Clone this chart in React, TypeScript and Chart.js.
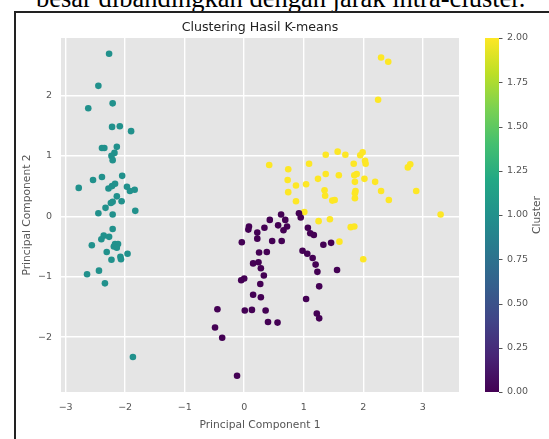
import React, { useEffect, useRef } from "react";
import { Chart, registerables } from "chart.js";

Chart.register(...registerables);

// ---- data ----
const cluster0X = [0.62, 0.43, 0.57, 0.69, 0.72, 0.66, 0.08, 0.07, 0.34, 0.22, 0.22, -0.04, 0.47, 0.63, 0.25, 0.38, 0.15, 0.24, 0.28, 0.33, -0.05, 0.0, 0.27, 0.15, 0.28, -0.45, 0.01, 0.13, 0.36, -0.49, 0.4, 0.56, -0.37, -0.12, 0.92, 0.95, 1.07, 1.11, 1.17, 1.33, 1.46, 0.98, 1.06, 1.15, 1.2, 1.23, 1.26, 1.56, 1.04, 1.22, 1.26];
const cluster0Y = [0.03, -0.06, -0.15, -0.06, -0.17, -0.23, -0.17, -0.22, -0.19, -0.27, -0.37, -0.43, -0.41, -0.41, -0.6, -0.59, -0.78, -0.76, -0.86, -0.98, -1.06, -1.03, -1.12, -1.3, -1.34, -1.54, -1.56, -1.55, -1.56, -1.84, -1.75, -1.76, -2.01, -2.64, 0.05, -0.02, -0.19, -0.28, -0.31, -0.47, -0.44, -0.57, -0.62, -0.69, -0.8, -0.92, -1.16, -0.89, -1.37, -1.61, -1.69];

const cluster1X = [-2.27, -2.45, -2.62, -2.21, -2.22, -2.09, -1.9, -2.39, -2.35, -2.14, -2.18, -2.23, -2.21, -2.54, -2.39, -2.05, -2.78, -2.28, -2.22, -2.17, -1.97, -1.92, -1.84, -2.14, -2.21, -2.24, -2.06, -2.33, -2.45, -2.21, -1.83, -2.21, -2.36, -2.4, -2.27, -2.56, -2.17, -2.12, -2.19, -2.14, -2.31, -2.08, -2.07, -1.96, -2.23, -2.44, -2.64, -2.34, -1.87];
const cluster1Y = [2.69, 2.16, 1.79, 1.87, 1.48, 1.49, 1.41, 1.13, 1.13, 1.15, 1.05, 1.0, 0.93, 0.6, 0.65, 0.67, 0.47, 0.46, 0.5, 0.54, 0.49, 0.42, 0.44, 0.33, 0.24, 0.22, 0.25, 0.14, 0.05, 0.03, 0.09, -0.21, -0.32, -0.38, -0.34, -0.48, -0.46, -0.46, -0.5, -0.52, -0.59, -0.67, -0.71, -0.62, -0.72, -0.9, -0.96, -1.11, -2.33];

const cluster2X = [2.3, 2.42, 2.25, 0.42, 0.74, 0.73, 0.74, 0.87, 0.87, 1.04, 1.09, 1.24, 1.37, 1.37, 1.57, 1.7, 1.59, 1.35, 1.36, 1.48, 1.52, 1.84, 1.95, 1.99, 2.03, 2.04, 1.85, 1.89, 1.86, 2.02, 1.87, 1.86, 1.86, 2.2, 2.3, 2.43, 2.75, 2.79, 2.89, 3.3, 1.01, 1.25, 1.44, 1.79, 1.85, 1.6, 2.0];
const cluster2Y = [2.63, 2.56, 1.93, 0.85, 0.78, 0.6, 0.4, 0.51, 0.25, 0.53, 0.87, 0.62, 0.7, 1.02, 1.07, 1.02, 0.68, 0.43, 0.34, 0.26, 0.27, 0.87, 1.01, 1.06, 0.92, 0.87, 0.68, 0.7, 0.57, 0.62, 0.42, 0.38, 0.3, 0.57, 0.42, 0.27, 0.81, 0.86, 0.42, 0.03, 0.07, -0.08, -0.05, -0.18, -0.17, -0.42, -0.71];

const clusterIds = [0, 1, 2];
const xTicks = [-3, -2, -1, 0, 1, 2, 3];
const yTicks = [-2, -1, 0, 1, 2];
const cbTicks = [0, 0.25, 0.5, 0.75, 1, 1.25, 1.5, 1.75, 2];

const chartTitle = "Clustering Hasil K-means";
const xTitle = "Principal Component 1";
const yTitle = "Principal Component 2";
const cbTitle = "Cluster";
const docText = "besar dibandingkan dengan jarak intra-cluster.";

// viridis colormap stops
const VIRIDIS = ["#440154", "#482475", "#414487", "#355f8d", "#2a788e", "#21918c", "#22a884", "#44bf70", "#7ad151", "#bddf26", "#fde725"];
const CLUSTER_COLORS = ["#440154", "#21918c", "#fde725"];

const FONT = '"DejaVu Sans", Verdana, sans-serif';
const GRAY = "#555555";

const fmt = (v: number) => (v < 0 ? "\u2212" + String(-v) : String(v));

export default function App() {
  const ref = useRef<HTMLCanvasElement>(null);

  useEffect(() => {
    const canvas = ref.current;
    if (!canvas) return;
    const pts = (xs: number[], ys: number[]) => xs.map((x, i) => ({ x, y: ys[i] }));
    const series = [pts(cluster0X, cluster0Y), pts(cluster1X, cluster1Y), pts(cluster2X, cluster2Y)];

    const deco = {
      id: "deco",
      beforeDraw(chart: any) {
        const { ctx, chartArea: a } = chart;
        ctx.save();
        ctx.fillStyle = "#e5e5e5";
        ctx.fillRect(a.left, a.top, a.right - a.left, a.bottom - a.top);
        ctx.restore();
      },
      afterDraw(chart: any) {
        const { ctx, chartArea: a } = chart;
        const cb = chart.scales.cb;
        const yBot = cb.getPixelForValue(cbTicks[0]);
        const yTop = cb.getPixelForValue(cbTicks[cbTicks.length - 1]);
        const bx = a.right + 26;
        const bw = 14;
        ctx.save();
        const g = ctx.createLinearGradient(0, yBot, 0, yTop);
        VIRIDIS.forEach((c, i) => g.addColorStop(i / (VIRIDIS.length - 1), c));
        ctx.fillStyle = g;
        ctx.fillRect(bx, yTop, bw, yBot - yTop);
        ctx.strokeStyle = GRAY;
        ctx.lineWidth = 1;
        cbTicks.forEach((v) => {
          const y = Math.round(cb.getPixelForValue(v)) + 0.5;
          ctx.beginPath();
          ctx.moveTo(bx + bw, y);
          ctx.lineTo(bx + bw + 3.5, y);
          ctx.stroke();
        });
        // colorbar label
        ctx.fillStyle = GRAY;
        ctx.font = `10.7px ${FONT}`;
        ctx.textAlign = "center";
        ctx.textBaseline = "middle";
        ctx.translate(537.5, (yTop + yBot) / 2);
        ctx.rotate(-Math.PI / 2);
        ctx.fillText(cbTitle, 0, 0);
        ctx.restore();
        // title
        ctx.save();
        ctx.fillStyle = "#222";
        ctx.font = `12.6px ${FONT}`;
        ctx.textAlign = "center";
        ctx.textBaseline = "alphabetic";
        ctx.fillText(chartTitle, (a.left + a.right) / 2, 31);
        ctx.restore();
      },
    };

    const chart = new Chart(canvas, {
      type: "scatter",
      data: {
        datasets: clusterIds.map((id) => ({
          label: "Cluster " + id,
          data: series[id],
          backgroundColor: CLUSTER_COLORS[id],
          borderWidth: 0,
          pointRadius: 3.3,
          pointHoverRadius: 3.3,
        })),
      },
      options: {
        animation: false,
        responsive: false,
        devicePixelRatio: 1,
        events: [],
        layout: { autoPadding: false, padding: { left: 17, top: 38, right: 0, bottom: 0 } },
        plugins: { legend: { display: false }, tooltip: { enabled: false }, title: { display: false } },
        scales: {
          x: {
            type: "linear",
            position: "bottom",
            min: -3.078,
            max: 3.609,
            afterBuildTicks: (s: any) => {
              s.ticks = xTicks.map((v) => ({ value: v }));
            },
            afterFit: (s: any) => {
              s.height = 47;
            },
            border: { display: false },
            grid: { color: "#ffffff", lineWidth: 1.4, drawTicks: false },
            ticks: { color: GRAY, font: { family: FONT, size: 9.5 }, padding: 10, autoSkip: false, maxRotation: 0, callback: (v: any) => fmt(Number(v)) },
            title: { display: true, text: xTitle, color: GRAY, font: { family: FONT, size: 10.7 }, padding: { top: 0, bottom: 7.5 } },
          },
          y: {
            type: "linear",
            position: "left",
            min: -2.909,
            max: 2.952,
            afterBuildTicks: (s: any) => {
              s.ticks = yTicks.map((v) => ({ value: v }));
            },
            afterFit: (s: any) => {
              s.width = 44;
            },
            border: { display: false },
            grid: { color: "#ffffff", lineWidth: 1.4, drawTicks: false },
            ticks: { color: GRAY, font: { family: FONT, size: 9.5 }, padding: 9, autoSkip: false, callback: (v: any) => fmt(Number(v)) },
            title: { display: true, text: yTitle, color: GRAY, font: { family: FONT, size: 10.7 }, padding: { top: 3.4, bottom: 0 } },
          },
          cb: {
            type: "linear",
            position: "right",
            min: 0,
            max: 2,
            afterBuildTicks: (s: any) => {
              s.ticks = cbTicks.map((v) => ({ value: v }));
            },
            afterFit: (s: any) => {
              s.width = 90;
            },
            border: { display: false },
            grid: { display: false, drawTicks: true, tickLength: 44 },
            ticks: { color: GRAY, font: { family: FONT, size: 9.5 }, padding: 4, autoSkip: false, callback: (v: any) => Number(v).toFixed(2) },
          },
        },
      },
      plugins: [deco],
    } as any);

    return () => chart.destroy();
  }, []);

  return (
    <div style={{ position: "fixed", left: 0, top: 0, width: 549, height: 439, background: "#fff", overflow: "hidden" }}>
      <div
        style={{
          position: "absolute",
          left: 36,
          top: -15.5,
          fontFamily: '"Liberation Serif", "Times New Roman", serif',
          fontSize: 26.5,
          lineHeight: 1,
          whiteSpace: "nowrap",
          color: "#000",
        }}
      >
        {docText}
      </div>
      <div
        style={{
          position: "absolute",
          left: 14,
          top: 11,
          width: 700,
          height: 700,
          borderLeft: "2px solid #222",
          borderTop: "2px solid #222",
          background: "#fff",
        }}
      />
      <canvas ref={ref} width={549} height={439} style={{ position: "absolute", left: 0, top: 0, width: 549, height: 439 }} />
    </div>
  );
}
